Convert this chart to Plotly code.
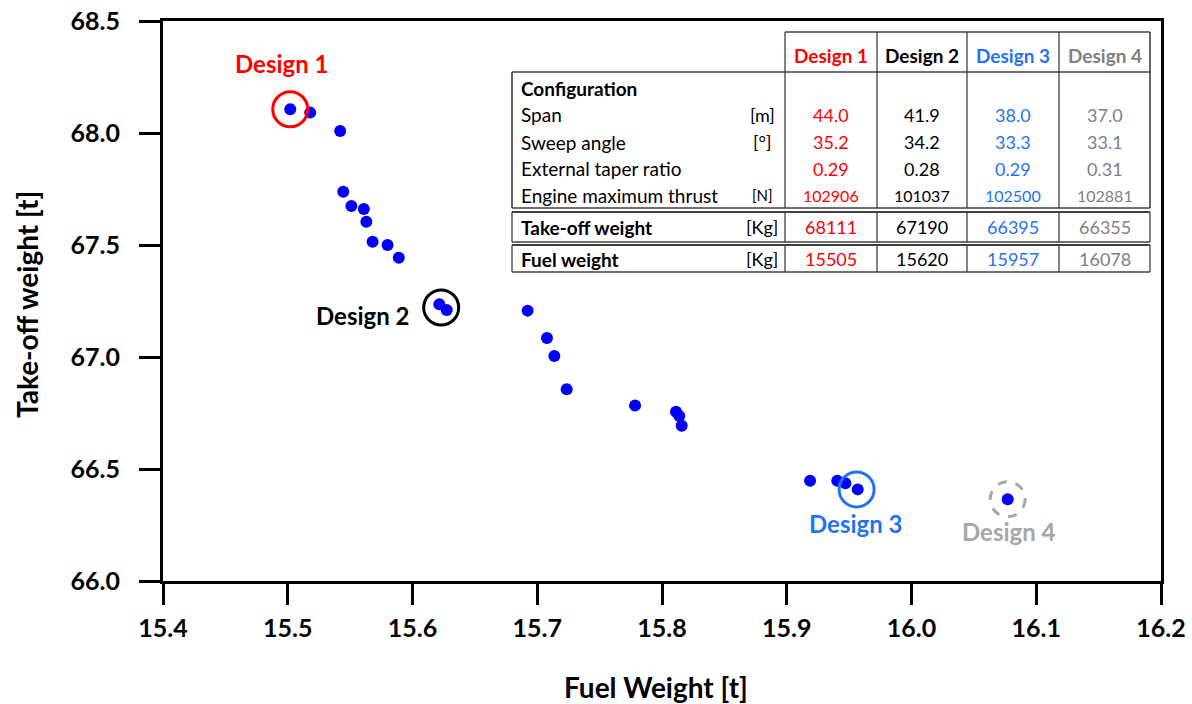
import plotly.graph_objects as go

# ---------------- data ----------------
fuel_weight = [15.502, 15.518, 15.542, 15.5445, 15.551, 15.561, 15.563, 15.568, 15.580, 15.589,
               15.6215, 15.6274, 15.6923, 15.7078, 15.7137, 15.7236, 15.7784, 15.8112, 15.8139,
               15.8158, 15.9187, 15.9405, 15.947, 15.9569, 16.0771]
takeoff_weight = [68.106, 68.091, 68.009, 67.738, 67.674, 67.661, 67.604, 67.515, 67.500, 67.443,
                  67.235, 67.210, 67.207, 67.085, 67.004, 66.856, 66.783, 66.756, 66.737,
                  66.693, 66.448, 66.448, 66.436, 66.409, 66.365]

x_ticks = [15.4, 15.5, 15.6, 15.7, 15.8, 15.9, 16.0, 16.1, 16.2]
y_ticks = [66.0, 66.5, 67.0, 67.5, 68.0, 68.5]

design_names = ["Design 1", "Design 2", "Design 3", "Design 4"]
design_x = [15.502, 15.623, 15.956, 16.0771]
design_y = [68.106, 67.221, 66.409, 66.365]
design_colors = ["#FF0000", "#000000", "#1F74F2", "#A6A6A6"]
table_colors = ["#FF0000", "#000000", "#1F74F2", "#808080"]
circle_dash = ["solid", "solid", "solid", "dash"]

row_labels = ["Span", "Sweep angle", "External taper ratio", "Engine maximum thrust"]
row_units = ["[m]", "[°]", "", "[N]"]
span = ["44.0", "41.9", "38.0", "37.0"]
sweep = ["35.2", "34.2", "33.3", "33.1"]
taper = ["0.29", "0.28", "0.29", "0.31"]
thrust = ["102906", "101037", "102500", "102881"]
tow_table = ["68111", "67190", "66395", "66355"]
fuel_table = ["15505", "15620", "15957", "16078"]

FONT = "Lato, 'Open Sans', sans-serif"

fig = go.Figure()
fig.add_trace(go.Scatter(x=fuel_weight, y=takeoff_weight, mode="markers",
                         marker=dict(size=12, color="#0000FF", line=dict(width=0)),
                         showlegend=False, hoverinfo="x+y"))

# design circles
for i in range(4):
    fig.add_shape(type="circle", xref="x", yref="y", xsizemode="pixel", ysizemode="pixel",
                  xanchor=design_x[i], yanchor=design_y[i], x0=-17.5, x1=17.5, y0=-17.5, y1=17.5,
                  line=dict(color=design_colors[i], width=3, dash=circle_dash[i]))

# design labels (offsets in pixels)
label_shift = [(-8, 46), (-78, -8), (-1, -34), (1, -32)]
for i in range(4):
    fig.add_annotation(x=design_x[i], y=design_y[i], xref="x", yref="y", text=design_names[i],
                       showarrow=False, xshift=label_shift[i][0], yshift=label_shift[i][1],
                       xanchor="center", yanchor="middle",
                       font=dict(family=FONT, size=24, color=design_colors[i], weight="bold"))

# ---------------- table (paper coordinates from plot-area pixels) ----------------
W, H = 1192, 704
L, R, T, B = 163, 1161, 21, 581
def px(x):
    return (x - L) / (R - L)
def py(y):
    return (B - y) / (B - T)

bc = "#404040"
def hline(x0, x1, y, w=1.3):
    fig.add_shape(type="line", xref="paper", yref="paper", x0=px(x0), x1=px(x1), y0=py(y), y1=py(y),
                  line=dict(color=bc, width=w))
def vline(x, y0, y1, w=1.3):
    fig.add_shape(type="line", xref="paper", yref="paper", x0=px(x), x1=px(x), y0=py(y0), y1=py(y1),
                  line=dict(color=bc, width=w))

tl, tc, tr = 512, 785, 1150
cols = [785, 877, 967, 1059, 1150]
col_c = [(cols[i] + cols[i + 1]) / 2 for i in range(4)]

hline(tc, tr, 32)
hline(tl, tr, 72, 1.6)
hline(tl, tr, 208, 1.6)
vline(tl, 72, 208, 1.6)
vline(tr, 32, 208, 1.6)
for c in cols[:-1]:
    vline(c, 32, 208)
for (yt, yb) in [(212, 242), (245, 272)]:
    hline(tl, tr, yt, 1.8)
    hline(tl, tr, yb, 1.3)
    vline(tl, yt, yb, 1.3)
    vline(tr, yt, yb, 1.3)
    for c in cols[:-1]:
        vline(c, yt, yb)

def text(x, y, s, color="#000000", size=19, bold=False, anchor="left"):
    fig.add_annotation(x=px(x), y=py(y), xref="paper", yref="paper", text=s, showarrow=False,
                       xanchor=anchor, yanchor="middle",
                       font=dict(family=FONT, size=size, color=color, weight="bold" if bold else "normal"))

for i in range(4):
    text(col_c[i], 55, design_names[i], table_colors[i], 19, True, "center")
text(519, 88, "Configuration", bold=True)
row_y = [115, 142, 169, 195]
row_vals = [span, sweep, taper, thrust]
for r in range(4):
    small = r == 3
    text(519, row_y[r], row_labels[r])
    if row_units[r]:
        text(762, row_y[r], row_units[r], size=15 if small else 18, anchor="center")
    for i in range(4):
        text(col_c[i], row_y[r], row_vals[r][i], table_colors[i], 16 if small else 18, False, "center")
text(519, 227, "Take-off weight", bold=True)
text(762, 227, "[Kg]", size=18, anchor="center")
text(519, 259, "Fuel weight", bold=True)
text(762, 259, "[Kg]", size=18, anchor="center")
for i in range(4):
    text(col_c[i], 227, tow_table[i], table_colors[i], 18, False, "center")
    text(col_c[i], 259, fuel_table[i], table_colors[i], 18, False, "center")

# axis titles
fig.add_annotation(x=px(656), y=py(687), xref="paper", yref="paper", text="Fuel Weight [t]",
                   showarrow=False, xanchor="center", yanchor="middle",
                   font=dict(family=FONT, size=28, color="#000000", weight="bold"))
fig.add_annotation(x=px(27), y=py(305), xref="paper", yref="paper", text="Take-off weight [t]",
                   showarrow=False, textangle=-90, xanchor="center", yanchor="middle",
                   font=dict(family=FONT, size=28, color="#000000", weight="bold"))

axis_common = dict(showline=True, linewidth=3, linecolor="#000000", mirror=True, ticks="outside",
                   ticklen=21, tickwidth=3, tickcolor="#000000", showgrid=False, zeroline=False,
                   tickfont=dict(family=FONT, size=25, color="#000000", weight="bold"),
                   tickmode="array")
fig.update_xaxes(range=[15.4, 16.2], tickvals=x_ticks, ticktext=[f"{v:.1f}" for v in x_ticks],
                 ticklabelstandoff=2, **axis_common)
fig.update_yaxes(range=[66.0, 68.5], tickvals=y_ticks, ticktext=[f"{v:.1f}" for v in y_ticks],
                 ticklabelstandoff=14, **axis_common)

fig.update_layout(width=W, height=H, paper_bgcolor="#FFFFFF", plot_bgcolor="#FFFFFF",
                  margin=dict(l=L, r=W - R, t=T, b=H - B, autoexpand=False),
                  showlegend=False, font=dict(family=FONT))

fig.write_html("out.html", config={"displayModeBar": False},
               post_script="document.body.style.margin='0px';document.body.style.overflow='hidden';")
